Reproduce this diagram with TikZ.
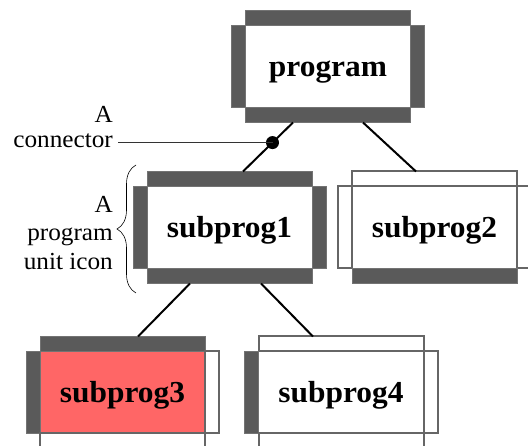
\documentclass[tikz,border=0pt]{standalone}
\usepackage{fontspec}
\setmainfont{Liberation Serif}[FakeStretch=1.03]
\usetikzlibrary{decorations.pathreplacing}

\definecolor{bardark}{HTML}{5A5A5A}
\definecolor{barline}{HTML}{666666}
\definecolor{unitred}{HTML}{FF6666}
\definecolor{unitedge}{HTML}{FF3300}

\tikzset{
  body/.style={minimum width=165pt, minimum height=82pt, inner sep=0pt, outer sep=0pt,
    fill=white, font=\fontsize{30.5}{32}\selectfont\bfseries, text height=21pt, text depth=0pt},
  darkbar/.style={fill=bardark, draw=bardark!85, line width=0.5pt},
  openbar/.style={fill=white, draw=barline, line width=2pt},
  redge/.style={draw=unitedge, line width=1.5pt},
  link/.style={line width=2pt},
  note/.style={font=\fontsize{24.5}{25}\selectfont, align=right, inner sep=0pt, anchor=north east},
  pointer/.style={line width=0.8pt, black!80},
}

% four bars round a unit icon: node, top, left, right, bottom
\newcommand{\unitbars}[5]{%
  \draw[#2] (#1.north west) rectangle ++(165,-15);
  \draw[#3] (#1.south west) rectangle ++(-14,-82);
  \draw[#4] (#1.south east) rectangle ++(14,-82);
  \draw[#5] (#1.south west) rectangle ++(165,15);
}

\begin{document}
\begin{tikzpicture}[x=1pt, y=-1pt]
  \useasboundingbox (0,0) rectangle (528,446);

  % Unit icons
  \node[body] (prog) at (328,66.5) {program};
  \unitbars{prog}{darkbar}{darkbar}{darkbar}{darkbar}

  \node[body] (sub1) at (229.5,227.5) {subprog1};
  \unitbars{sub1}{darkbar}{darkbar}{darkbar}{darkbar}

  \node[body] (sub2) at (434.5,227.5) {subprog2};
  \unitbars{sub2}{openbar}{openbar}{openbar}{darkbar}

  \node[body, fill=unitred] (sub3) at (122.5,392.5) {subprog3};
  \draw[redge] (sub3.north west) -- (sub3.south west) (sub3.north east) -- (sub3.south east);
  \unitbars{sub3}{darkbar}{darkbar}{openbar}{openbar}

  \node[body] (sub4) at (341,392.5) {subprog4};
  \unitbars{sub4}{openbar}{darkbar}{openbar}{openbar}

  % Connectors
  \draw[link] ([xshift=-35pt,yshift=-15pt]prog.south) -- coordinate[pos=0.41] (tap) ([xshift=13.5pt,yshift=15pt]sub1.north);
  \draw[link] ([xshift=35pt,yshift=-15pt]prog.south) -- ([xshift=-18.5pt,yshift=15pt]sub2.north);
  \draw[link] ([xshift=-39.5pt,yshift=-15pt]sub1.south) -- ([xshift=15.5pt,yshift=15pt]sub3.north);
  \draw[link] ([xshift=31.5pt,yshift=-15pt]sub1.south) -- ([xshift=-28pt,yshift=15pt]sub4.north);
  \fill (tap) circle[radius=6.5pt];

  % Notes
  \node[note] (conn-lbl) at (113,106) {A\\connector};
  \draw[pointer] (tap) -- ([xshift=5pt]tap -| conn-lbl.east);

  \node[note, font=\fontsize{24.5}{28.5}\selectfont] (icon-lbl) at (113,196) {A\\program\\unit icon};
  \draw[decorate, decoration={brace, amplitude=19pt}, line width=0.6pt] (136,293) -- (136,165);
\end{tikzpicture}
\end{document}
